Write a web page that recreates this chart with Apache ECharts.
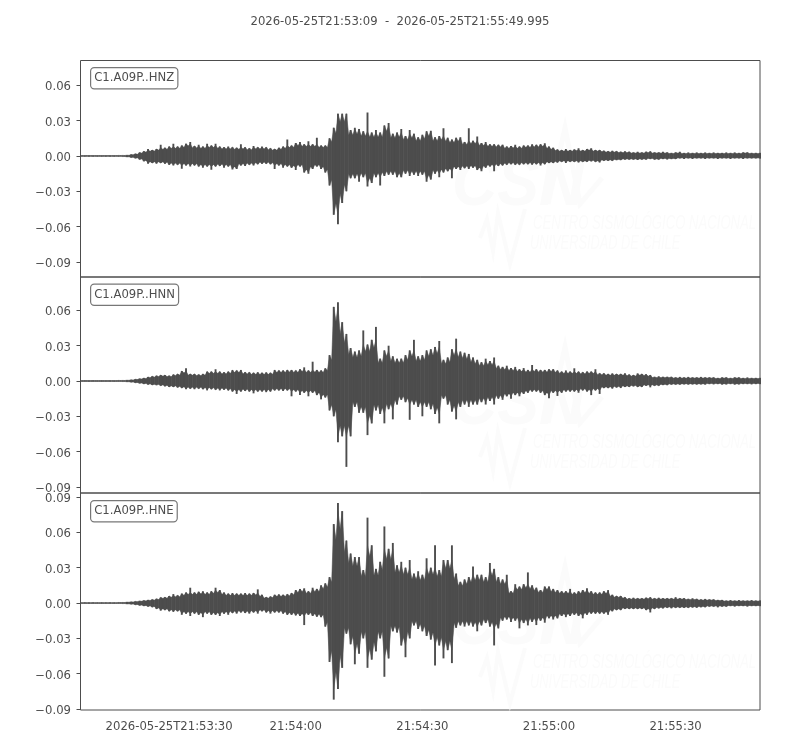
<!DOCTYPE html>
<html><head><meta charset="utf-8">
<style>html,body{margin:0;padding:0;background:#fff}#c{width:800px;height:750px}</style>
<script src="https://cdn.jsdelivr.net/npm/echarts@6/dist/echarts.min.js"></script>
</head><body><div id="c"></div>
<script>
const titleText = '2026-05-25T21:53:09  -  2026-05-25T21:55:49.995';
const channels = ['C1.A09P..HNZ','C1.A09P..HNN','C1.A09P..HNE'];
// seconds after 21:53:00 of the first envelope sample, one sample per second
const startSecond = 9;
const endSecond = 169.995;
const timeTicks = [30,60,90,120,150];
const timeLabels = ['2026-05-25T21:53:30','21:54:00','21:54:30','21:55:00','21:55:30'];
const amplitudeTicks = [[-0.09,-0.06,-0.03,0,0.03,0.06],[-0.09,-0.06,-0.03,0,0.03,0.06],[-0.09,-0.06,-0.03,0,0.03,0.06,0.09]];
const amplitudeRanges = [[-0.1029,0.0812],[-0.0952,0.0884],[-0.0908,0.0934]];
// envelope values in thousandths of the plotted unit
const hnzUpper = [
.4,.5,.4,.5,.4,.5,.4,.5,.4,.5,
.5,.7,1.2,1.8,3,4,6,5,6,9.5,
7,8,10.5,8,9,10.5,12,8.5,9.5,8,
10.5,9,10.5,8,7.5,8,7.5,7,10,7.5,
6.5,8.5,7.5,8,7.5,6.5,6,7,8,14,
9,11,12,10,12.5,10,15.5,9,9,15,
24,36,36,36,22,24,23,21,37,20,
22,20,26,28,19,20,23,17,22,19,
16,18,21,21.5,16,17,23.5,15.5,14,15.5,
16,12,23.5,13,16.5,11,12,10,10,9.5,
9.5,8,8.5,9.5,8,9,9,10,9.5,10,
10.8,8,7,5.5,5,6,5,5.5,6.5,5,
6,6.5,5,5,4.5,4,4.5,4,3.5,4,
3.5,3,3.5,3,3.5,4,3,3,3.5,3,
2.5,3,3.5,2.5,3,2.5,3,2.5,3,2.5,
3,2.5,2.5,3,2.5,3,2.5,3,3,2.5,2.5,2.5];
const hnzLower = [
-.4,-.4,-.5,-.4,-.4,-.5,-.4,-.4,-.5,-.4,
-.5,-.8,-1.3,-2,-3,-4.5,-6.5,-6,-6.5,-6,
-6.5,-7.5,-8,-7.5,-10.8,-8,-9,-8,-9,-10,
-9,-11.6,-9,-8.5,-10,-9,-11.5,-11,-8,-8.5,
-7.5,-8,-7,-6.5,-6.5,-7,-11,-8,-10,-9,
-10,-12,-9,-14,-15,-11,-9,-11,-14,-25,
-50,-58,-40,-30,-19,-19,-22,-18,-26,-23,
-18,-25,-17,-16,-16,-18,-18,-15,-17,-16,
-17,-16,-22,-20,-15,-18,-14,-13,-19,-11,
-12,-10.5,-11,-10,-12,-13,-10,-9,-13,-8.5,
-8,-7.5,-7,-7.5,-7.5,-7,-7,-7.5,-7,-8,
-7,-6,-6,-5.5,-5,-6,-5,-5,-5.5,-5,
-5,-4.5,-5,-5.6,-4,-4,-4,-3.5,-3.5,-3,
-3,-3,-3.5,-3,-3,-2.5,-3,-3,-2.5,-3,
-2.5,-2.5,-2,-2.5,-2,-2.5,-2,-2,-2.5,-2,
-2,-2.5,-2,-2,-2.5,-2,-2,-2.5,-2,-2,-2,-2];
const hnnUpper = [
.4,.5,.4,.5,.4,.5,.4,.5,.4,.5,
.5,.7,1,1.5,2,2.5,3.5,4,4.5,5,
5,4.5,5.5,6,8.5,10.8,6,6,5.5,6,
8,8,10,8,7.5,8,9.4,9,9.4,7.5,
7.4,7,7.5,7,7.4,7,9.4,9,9,9.4,
9.4,9,10,11.6,9,16.4,9.4,9,10.8,22,
63,67,50,40,28,25,26,43,31,35,
46,19,26,30,21,19,19,22,26,35,
21,22,26,27,29,34,18,20,27,36,
25,24,23,20,18,16,19,17,20,13,
12,13,11,12,10,11,9.4,13.6,10,9.4,
9.4,10,10,9,8,9,8,10.8,8,7.5,
8,8,10,6.5,6.5,6,6.5,6,6,6.5,
5.5,5,6.5,6,5.7,5,3.5,4,3.5,3.5,
3.5,3,3.5,3,3.5,3,3,3.5,3,3,
3,2.5,3,3,2.5,3,3,2.5,3,2.5,2.5,2.5];
const hnnLower = [
-.4,-.4,-.5,-.4,-.4,-.5,-.4,-.4,-.5,-.4,
-.5,-.7,-1,-1.5,-2,-2.5,-3,-3.4,-3.5,-4,
-4.5,-5,-5,-5.5,-6,-7,-6.5,-7,-6.5,-7,
-8,-7,-7.5,-8,-7.5,-8,-9,-11,-9,-8.5,
-9,-10.5,-9,-9,-9.5,-9,-8,-8,-8.5,-8,
-13,-9,-12,-10,-13,-10,-12,-15.6,-14,-25,
-30,-52,-47,-73,-47,-22,-27,-27,-46,-36,
-25,-28,-36,-24,-32.6,-20,-16,-18,-33,-20,
-22,-30,-22,-24,-28,-36,-15,-20,-26,-32.6,
-22,-20,-22,-20,-20,-18,-20,-17,-20,-15,
-16,-13,-15,-12,-13,-11,-10,-9,-9,-10,
-12,-14.7,-10,-12.7,-10,-9,-9,-9,-10,-8,
-9,-12,-8,-11,-6,-6,-6.5,-5.5,-6,-5,
-5,-4.5,-5,-5,-4,-5.4,-4,-4,-3.4,-3.5,
-3,-3,-3,-2.8,-3,-2.8,-3,-2.8,-3,-2.5,
-2.8,-2.5,-3,-2.8,-2.5,-3,-2.8,-2.5,-2.5,-2.8,-2.5,-2.5];
const hneUpper = [
.4,.5,.4,.5,.4,.5,.4,.5,.4,.5,
.5,.8,1,1.4,1.8,2.2,2.6,3,3.6,4.8,
5,6,7.6,6.5,8,9,13,9,9.6,10,
9,10,13,11,9,8,8.5,8,8,8.5,
8,8.5,11.6,7,5,5.5,7,7.4,7,7.5,
8.5,11,12,12.5,10,13,12,15,16.7,22,
67,85,78,53,42,39,39,28,72.5,49,
29,35,65,46,51,32,35,30,36.5,25,
27,24,38,30,49,28,36.5,36.5,49,25,
18,20,22,31,24,24,22,34,29,22,
20,24,10,16,14,16,26,15,13,11,
14,14,12,11,10,10,12,9,10,11,
12.5,10,9,9,10,11,7,6,6,5,
4,4.5,4,4,4.5,5,4,4.5,4,4,
4,5,4,4,3.5,4,3.5,3,3.5,3,
3,2.5,2.5,2,2.5,2,2.5,2,2,2.5,2,2];
const hneLower = [
-.4,-.4,-.5,-.4,-.4,-.5,-.4,-.4,-.5,-.4,
-.5,-.8,-1,-1.5,-2,-2.5,-3,-3.5,-5,-6.5,
-6,-7,-7.5,-7,-10,-9,-11,-9,-10,-12,
-9,-10,-10,-11,-9,-10,-8.5,-9,-8,-8.5,
-9,-8,-9,-7,-8,-9,-8,-8,-9,-10,
-10,-10.5,-11,-18.7,-10,-11,-11.6,-12,-20,-50,
-82,-73,-55,-26,-35,-52,-43,-30,-55,-48,
-41,-30,-62.6,-47,-24,-25,-36,-46,-30,-19,
-22,-24,-28,-31,-53,-36,-47,-40,-51,-21,
-19,-20,-19,-20,-24,-19,-17,-20,-36,-21.5,
-15,-14,-16,-15,-21.5,-17,-19,-16,-18.7,-15,
-16.7,-13,-14,-13,-11,-12,-11,-10,-11,-13,
-10,-9,-9,-9,-9,-10,-7,-6,-6,-5,
-5,-5,-5,-5,-6,-8,-5,-4.5,-4.5,-4,
-4.5,-4,-4,-4,-4,-3.7,-4,-3.5,-3.5,-3,
-3,-3.7,-3,-3,-2.5,-3,-2.5,-2.5,-3,-2.5,-2.5,-2.5];
const uppers = [hnzUpper,hnnUpper,hneUpper];
const lowers = [hnzLower,hnnLower,hneLower];

const INK = '#4d4d4d';
const FONT = 11.65;
const grids = [
  {left:80.5,width:679.5,top:60.5,height:216.5},
  {left:80.5,width:679.5,top:277,height:216},
  {left:80.5,width:679.5,top:493,height:217}
];
const fmt = v => '{a|'+(v<0?'\u2212':'')+Math.abs(v).toFixed(2)+'}';

function rows(k){
  const u=uppers[k], l=lowers[k], n=u.length;
  const at=(a,i)=>Math.abs(a[Math.max(0,Math.min(n-1,i))]);
  const valley=(a,i)=>0.8*Math.min(at(a,i),at(a,i+1));
  return u.map((v,i)=>{
    const uL=valley(u,i-1),uR=valley(u,i),lL=valley(l,i-1),lR=valley(l,i);
    return [startSecond+i,v/1000,l[i]/1000,uL/1000,uR/1000,-lL/1000,-lR/1000];
  });
}
function renderTrace(params,api){
  const t=api.value(0), up=api.value(1), lo=api.value(2),
        uL=api.value(3), uR=api.value(4), lL=api.value(5), lR=api.value(6);
  const uS=Math.min(up,1.25*Math.max(uL,uR)), lS=Math.max(lo,1.25*Math.min(lL,lR));
  const pts=[[t-.5,uL],[t,uS],[t+.55,uR],[t+.55,lR],[t,lS],[t-.5,lL]].map(p=>api.coord(p));
  const p=api.coord([t,up]), q=api.coord([t,lo]);
  return {type:'group',children:[
    {type:'polygon',shape:{points:pts},style:{fill:INK,stroke:INK,lineWidth:.5}},
    {type:'line',shape:{x1:p[0],y1:p[1],x2:q[0],y2:q[1]},style:{stroke:INK,lineWidth:1.9}}
  ]};
}
const watermark=[];
const WM='#fbfbfb';
[0,219,439].forEach(d=>{
  watermark.push(
   {type:'text',z:0,x:452,y:152+d,scaleX:.92,style:{text:'CSN',font:'italic bold 68px "Liberation Sans"',fill:WM}},
   {type:'polyline',z:0,shape:{points:[[548,204+d],[565,128+d],[580,204+d],[602,178+d]]},style:{stroke:WM,lineWidth:5,fill:'none'}},
   {type:'polyline',z:0,shape:{points:[[480,238+d],[487,219+d],[493,251+d],[498,213+d],[510,264+d],[525,209+d]]},style:{stroke:WM,lineWidth:4,fill:'none'}},
   {type:'text',z:0,x:533,y:213+d,scaleX:.625,style:{text:'CENTRO SISMOL\u00d3GICO NACIONAL',font:'italic 21px "Liberation Sans"',fill:WM}},
   {type:'text',z:0,x:530,y:233+d,scaleX:.61,style:{text:'UNIVERSIDAD DE CHILE',font:'italic 21px "Liberation Sans"',fill:WM}}
  );
});
const labels=channels.map((c,k)=>({
  type:'text',z:50,left:90,top:[67,283.5,500][k],
  style:{text:c,font:FONT+'px "DejaVu Sans"',fill:INK,backgroundColor:'#fff',borderColor:'#777',borderWidth:1.2,borderRadius:3,padding:[3,3,3,3],lineHeight:14}
}));
const option={
  animation:false,backgroundColor:'#fff',
  title:{text:titleText,left:'center',top:11,textStyle:{fontFamily:'DejaVu Sans',fontSize:FONT,fontWeight:'normal',color:INK}},
  grid:grids.map(g=>Object.assign({show:true,borderColor:INK,borderWidth:1,backgroundColor:'transparent'},g)),
  xAxis:[0,1,2].map(k=>({
    type:'value',gridIndex:k,min:startSecond,max:endSecond,splitLine:{show:false},
    axisLine:{show:false},
    axisTick:{show:k===2,length:4,customValues:timeTicks,lineStyle:{color:INK}},
    axisLabel:{show:k===2,customValues:timeTicks,margin:11,color:INK,fontFamily:'DejaVu Sans',fontSize:FONT,
      formatter:v=>timeLabels[timeTicks.indexOf(v)]||''}
  })),
  yAxis:[0,1,2].map(k=>({
    type:'value',gridIndex:k,min:amplitudeRanges[k][0],max:amplitudeRanges[k][1],splitLine:{show:false},
    axisLine:{show:false},
    axisTick:{show:true,length:4,customValues:amplitudeTicks[k],lineStyle:{color:INK}},
    axisLabel:{customValues:amplitudeTicks[k],margin:9.5,color:INK,fontFamily:'DejaVu Sans',fontSize:FONT,hideOverlap:false,formatter:fmt,
      rich:{a:{color:INK,fontFamily:'DejaVu Sans',fontSize:FONT,padding:[4,0,0,0]}}}
  })),
  series:[0,1,2].map(k=>({
    type:'custom',name:channels[k],xAxisIndex:k,yAxisIndex:k,clip:true,
    data:rows(k),renderItem:renderTrace,encode:{x:0,y:[1,2]},silent:true,z:5
  })),
  graphic:watermark.concat(labels)
};
const chart=echarts.init(document.getElementById('c'),null,{renderer:'canvas'});
chart.setOption(option);
</script></body></html>
